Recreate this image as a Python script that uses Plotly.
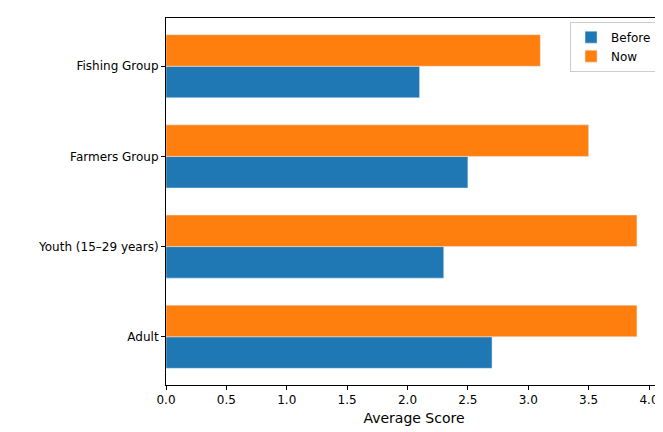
import plotly.graph_objects as go

groups = ["Adult", "Youth (15–29 years)", "Farmers Group", "Fishing Group"]
before = [2.7, 2.3, 2.5, 2.1]
now = [3.9, 3.9, 3.5, 3.1]
x_ticks = [0.0, 0.5, 1.0, 1.5, 2.0, 2.5, 3.0, 3.5, 4.0]

fig = go.Figure()
fig.add_trace(go.Bar(y=groups, x=before, name="Before", orientation="h", marker_color="#1f77b4"))
fig.add_trace(go.Bar(y=groups, x=now, name="Now", orientation="h", marker_color="#ff7f0e"))

axis_style = dict(showline=True, linecolor="black", mirror=True, ticks="outside",
                  ticklen=4, tickcolor="black", showgrid=False, zeroline=False)

fig.update_layout(
    width=663, height=432,
    margin=dict(l=158, r=9, t=10, b=55),
    plot_bgcolor="white", paper_bgcolor="white",
    font=dict(family="DejaVu Sans", size=12, color="black"),
    barmode="group", bargap=0.3, bargroupgap=0,
    legend=dict(x=0.99, y=0.99, xanchor="right", yanchor="top",
                bgcolor="white", bordercolor="#cccccc", borderwidth=1, traceorder="normal"),
    xaxis=dict(range=[0, 4.1075], tickvals=x_ticks, ticktext=[f"{v:.1f}" for v in x_ticks],
               title=dict(text="Average Score", standoff=6), **axis_style),
    yaxis=dict(range=[-0.535, 3.535], categoryorder="array", categoryarray=groups, **axis_style),
)

fig.write_html("out.html")
